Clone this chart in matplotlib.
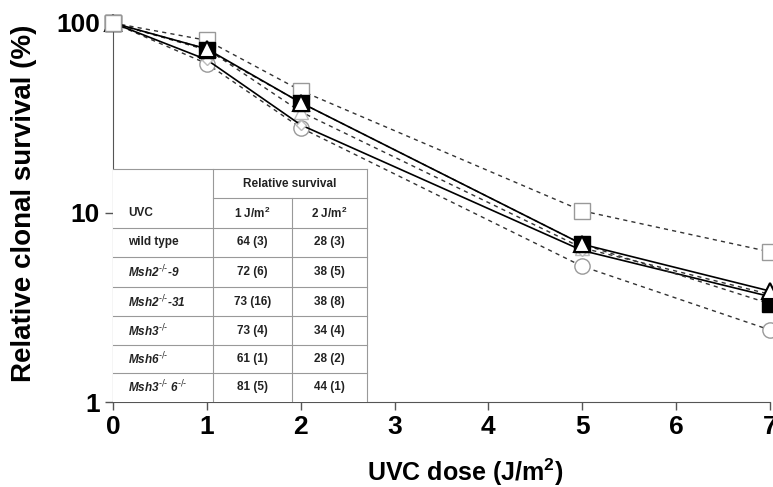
import numpy as np
import matplotlib
matplotlib.use("Agg")
import matplotlib.pyplot as plt

plt.rcParams['font.family'] = ['Liberation Sans', 'DejaVu Sans']
plt.rcParams['mathtext.default'] = 'regular'

# doses and survival (%)
dose = [0, 1, 2, 5, 7]
msh36 = [100, 81, 44, 10.2, 6.2]
msh2_9 = [100, 72, 38, 6.8, 3.3]
msh2_31 = [100, 73, 38, 6.8, 3.85]
msh3 = [100, 73, 34, 6.5, 3.7]
msh6 = [100, 61, 28, 5.2, 2.4]
wild = [100, 64, 29, 6.3, 3.6]

# table contents
sup = r"$^{\text{-/-}}$"
row_labels = ["wild type", "Msh2" + sup + "-9", "Msh2" + sup + "-31", "Msh3" + sup,
              "Msh6" + sup, "Msh3" + sup + " 6" + sup]
surv_1 = ["64 (3)", "72 (6)", "73 (16)", "73 (4)", "61 (1)", "81 (5)"]
surv_2 = ["28 (3)", "38 (5)", "38 (8)", "34 (4)", "28 (2)", "44 (1)"]

fig = plt.figure(figsize=(7.73, 4.87), dpi=100)
ax = fig.add_axes([113/773, 85/487, 657/773, 379/487])

dash = (0, (3, 3))
ax.plot(dose, msh36, color='#333333', lw=1, linestyle=dash, marker='s', ms=11,
        mfc='white', mec='#999999', mew=1, clip_on=False, zorder=3)
ax.plot(dose, msh6, color='#333333', lw=1, linestyle=dash, marker='o', ms=11,
        mfc='white', mec='#999999', mew=1, clip_on=False, zorder=3)
ax.plot(dose, msh3, color='#333333', lw=1, linestyle=dash, marker='^', ms=10,
        mfc='white', mec='#bbbbbb', mew=1, clip_on=False, zorder=3)
ax.plot(dose, wild, color='black', lw=1.2, marker='D', ms=5,
        mfc='white', mec='#bbbbbb', mew=1, clip_on=False, zorder=3)
ax.plot(dose, msh2_9, color='#333333', lw=1, linestyle=dash, marker='s', ms=11,
        mfc='black', mec='black', mew=1, clip_on=False, zorder=4)
ax.plot(dose, msh2_31, color='black', lw=1.2, marker='^', ms=11,
        mfc='white', mec='black', mew=1.5, clip_on=False, zorder=5)
# common starting point
ax.plot([0], [100], marker='s', ms=11, mfc='white', mec='#999999',
        clip_on=False, zorder=6)

ax.set_yscale('log')
ax.set_ylim(1, 100)
ax.set_xlim(0, 7)
ax.set_yticks([1, 10, 100])
ax.set_yticklabels(['1', '10', '100'])
ax.minorticks_off()
ax.set_xticks(range(8))
ax.tick_params(labelsize=19, length=6, width=1, color='#555555')
for lab in ax.get_xticklabels() + ax.get_yticklabels():
    lab.set_fontweight('bold')
ax.spines['top'].set_visible(False)
ax.spines['right'].set_visible(False)
ax.spines['left'].set_color('#555555')
ax.spines['bottom'].set_color('#555555')
ax.set_xlabel('UVC dose (J/m$^2$)', fontsize=18, fontweight='bold', labelpad=10)
ax.xaxis.set_label_coords(0.536, -0.145)
ax.set_ylabel('Relative clonal survival (%)', fontsize=20, fontweight='bold')
ax.yaxis.set_label_coords(-0.115, 0.525)

# table in axes fraction coordinates
tc = '#999999'
cx = [0, 100/657, 179/657, 254/657]
ry = [0.615, 0.538, 0.459, 0.383, 0.303, 0.227, 0.150, 0.077, 0.0]
ax.add_patch(plt.Rectangle((0, 0), cx[3], ry[0], transform=ax.transAxes,
                           facecolor='white', edgecolor='none', zorder=6))
ax.plot([cx[0], cx[3]], [ry[0], ry[0]], transform=ax.transAxes, color=tc, lw=0.8, zorder=7)
ax.plot([cx[1], cx[3]], [ry[1], ry[1]], transform=ax.transAxes, color=tc, lw=0.8, zorder=7)
for y in ry[2:-1]:
    ax.plot([cx[0], cx[3]], [y, y], transform=ax.transAxes, color=tc, lw=0.8, zorder=7)
ax.plot([cx[1], cx[1]], [0, ry[0]], transform=ax.transAxes, color=tc, lw=0.8, zorder=7)
ax.plot([cx[2], cx[2]], [0, ry[1]], transform=ax.transAxes, color=tc, lw=0.8, zorder=7)
ax.plot([cx[3], cx[3]], [0, ry[0]], transform=ax.transAxes, color=tc, lw=0.8, zorder=7)

fs = 8.5
mid1 = (cx[1] + cx[2]) / 2
mid2 = (cx[2] + cx[3]) / 2
ax.text((cx[1] + cx[3]) / 2, (ry[0] + ry[1]) / 2, 'Relative survival', transform=ax.transAxes,
        ha='center', va='center', fontsize=fs, fontweight='bold', color='#222222', zorder=8)
yc = (ry[1] + ry[2]) / 2
ax.text(0.023, yc, 'UVC', transform=ax.transAxes, ha='left', va='center',
        fontsize=fs, fontweight='bold', color='#222222', zorder=8)
ax.text(mid1, yc, '1 J/m$^2$', transform=ax.transAxes, ha='center', va='center',
        fontsize=fs, fontweight='bold', color='#222222', zorder=8)
ax.text(mid2, yc, '2 J/m$^2$', transform=ax.transAxes, ha='center', va='center',
        fontsize=fs, fontweight='bold', color='#222222', zorder=8)
for i, (lab, a, b) in enumerate(zip(row_labels, surv_1, surv_2)):
    yc = (ry[i + 2] + ry[i + 3]) / 2
    style = 'normal' if i == 0 else 'italic'
    ax.text(0.023, yc, lab, transform=ax.transAxes, ha='left', va='center', fontsize=fs,
            fontweight='bold', fontstyle=style, color='#222222', zorder=8)
    ax.text(mid1, yc, a, transform=ax.transAxes, ha='center', va='center', fontsize=fs,
            fontweight='bold', color='#222222', zorder=8)
    ax.text(mid2, yc, b, transform=ax.transAxes, ha='center', va='center', fontsize=fs,
            fontweight='bold', color='#222222', zorder=8)

fig.savefig('out.png', dpi=100)
